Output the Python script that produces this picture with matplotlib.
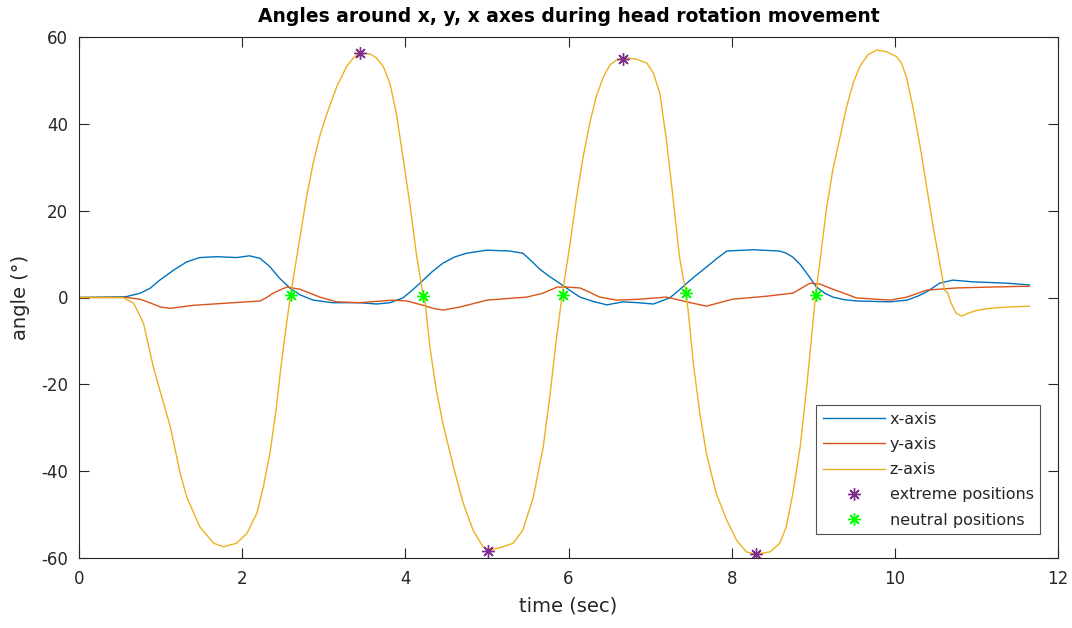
import matplotlib
matplotlib.use("Agg")
import matplotlib.pyplot as plt

# ---- data ----
t_x = [0.0, 0.58, 0.75, 0.87, 0.99, 1.16, 1.32, 1.48, 1.69, 1.93, 2.09, 2.22, 2.34, 2.46,
       2.59, 2.71, 2.87, 3.11, 3.44, 3.65, 3.81, 3.97, 4.08, 4.18, 4.32, 4.46, 4.60, 4.75,
       5.00, 5.28, 5.44, 5.54, 5.65, 5.77, 5.89, 6.02, 6.14, 6.30, 6.47, 6.67, 6.85, 7.04,
       7.24, 7.35, 7.45, 7.57, 7.69, 7.82, 7.94, 8.26, 8.59, 8.67, 8.75, 8.84, 8.92, 9.04,
       9.14, 9.24, 9.38, 9.53, 9.94, 10.15, 10.28, 10.39, 10.55, 10.71, 10.96, 11.37, 11.65]
x_axis = [0.0, 0.2, 1.0, 2.1, 4.0, 6.3, 8.2, 9.2, 9.4, 9.2, 9.6, 9.0, 7.1, 4.4,
          2.1, 0.6, -0.6, -1.2, -1.2, -1.5, -1.2, -0.1, 1.6, 3.3, 5.8, 7.9, 9.3, 10.2,
          10.9, 10.7, 10.2, 8.5, 6.5, 4.8, 3.3, 1.6, 0.1, -0.9, -1.7, -1.0, -1.2, -1.5,
          -0.1, 1.6, 3.3, 5.2, 7.0, 9.0, 10.7, 11.0, 10.7, 10.2, 9.3, 7.6, 5.6, 2.4,
          1.0, 0.1, -0.5, -0.8, -1.0, -0.6, 0.3, 1.3, 3.3, 4.0, 3.6, 3.3, 2.9]

t_y = [0.0, 0.59, 0.75, 0.88, 1.00, 1.12, 1.40, 1.81, 2.22, 2.30, 2.38, 2.47, 2.55, 2.71,
       2.83, 2.95, 3.16, 3.44, 3.85, 4.02, 4.22, 4.34, 4.46, 4.67, 5.00, 5.49, 5.69, 5.86,
       5.98, 6.14, 6.26, 6.38, 6.59, 6.87, 7.20, 7.45, 7.69, 7.85, 8.01, 8.43, 8.75, 8.86,
       8.96, 9.08, 9.20, 9.33, 9.53, 9.94, 10.15, 10.39, 10.76, 11.16, 11.65]
y_axis = [0.0, 0.0, -0.4, -1.3, -2.2, -2.5, -1.8, -1.3, -0.8, 0.0, 1.0, 1.8, 2.4, 1.9,
          1.0, 0.1, -1.0, -1.2, -0.6, -0.8, -1.8, -2.5, -2.9, -2.2, -0.6, 0.1, 1.0, 2.4,
          2.4, 2.2, 1.2, 0.1, -0.6, -0.4, 0.1, -1.0, -2.0, -1.2, -0.4, 0.3, 1.0, 2.2,
          3.3, 3.1, 2.2, 1.3, -0.1, -0.6, 0.1, 1.7, 2.2, 2.4, 2.6]

t_z = [0.0, 0.54, 0.67, 0.79, 0.91, 0.99, 1.12, 1.24, 1.32, 1.48, 1.65, 1.77, 1.93, 2.06,
       2.18, 2.26, 2.34, 2.42, 2.48, 2.55, 2.59, 2.63, 2.71, 2.79, 2.87, 2.95, 3.04, 3.16,
       3.28, 3.36, 3.44, 3.57, 3.65, 3.73, 3.81, 3.89, 3.97, 4.06, 4.14, 4.22, 4.24, 4.30,
       4.38, 4.46, 4.59, 4.71, 4.83, 4.95, 5.04, 5.20, 5.32, 5.44, 5.57, 5.69, 5.77, 5.85,
       5.92, 5.95, 6.02, 6.10, 6.18, 6.26, 6.34, 6.43, 6.51, 6.59, 6.68, 6.83, 6.96, 7.04,
       7.12, 7.20, 7.28, 7.36, 7.44, 7.47, 7.53, 7.61, 7.69, 7.81, 7.94, 8.06, 8.18, 8.30,
       8.47, 8.59, 8.67, 8.75, 8.84, 8.92, 8.98, 9.03, 9.08, 9.16, 9.24, 9.33, 9.41, 9.49,
       9.57, 9.67, 9.78, 9.90, 10.02, 10.08, 10.14, 10.22, 10.31, 10.39, 10.47, 10.55, 10.61,
       10.65, 10.69, 10.75, 10.82, 10.90, 11.00, 11.16, 11.37, 11.65]
z_axis = [0.0, 0.0, -1.3, -5.9, -15.9, -21.3, -29.8, -40.5, -45.9, -52.8, -56.6, -57.4, -56.6, -54.3,
          -49.7, -43.6, -35.9, -25.2, -15.2, -5.2, 0.2, 4.8, 14.0, 23.2, 30.9, 37.1, 42.4, 48.6,
          53.2, 55.1, 56.3, 56.1, 55.1, 53.2, 49.4, 42.4, 32.4, 20.9, 9.4, 0.2, -0.6, -11.3,
          -21.3, -29.0, -39.0, -47.4, -53.6, -57.4, -58.2, -57.4, -56.6, -53.6, -45.9, -34.4, -22.9, -9.8,
          0.2, 4.0, 12.5, 23.2, 32.4, 40.1, 46.3, 50.9, 53.6, 54.7, 55.3, 54.9, 54.0, 51.7,
          47.0, 36.3, 23.2, 9.4, 1.0, -3.6, -15.2, -26.7, -35.9, -45.1, -51.3, -55.9, -58.6, -59.1,
          -58.6, -56.6, -52.8, -45.1, -34.4, -20.6, -9.0, 1.0, 7.9, 20.2, 29.4, 37.1, 44.0, 49.4,
          53.2, 55.9, 57.0, 56.6, 55.5, 54.0, 50.9, 44.0, 34.8, 25.5, 16.3, 7.9, 1.7,
          1.0, -1.3, -3.6, -4.3, -3.6, -3.0, -2.5, -2.2, -2.0]

extreme_t = [3.44, 5.01, 6.67, 8.30]
extreme_v = [56.3, -58.4, 55.0, -59.0]
neutral_t = [2.60, 4.22, 5.93, 7.44, 9.03]
neutral_v = [0.5, 0.4, 0.5, 1.0, 0.5]

title = "Angles around x, y, x axes during head rotation movement"
xticks = [0, 2, 4, 6, 8, 10, 12]
yticks = [-60, -40, -20, 0, 20, 40, 60]

# ---- style ----
plt.rcParams['font.family'] = ['DejaVu Sans']
plt.rcParams['axes.unicode_minus'] = False
txt = (0.15, 0.15, 0.15)
c_blue = (0.0, 0.447, 0.741)
c_red = (0.85, 0.325, 0.098)
c_yel = (0.929, 0.694, 0.125)
c_pur = (0.494, 0.184, 0.556)
c_grn = (0.0, 1.0, 0.0)

fig = plt.figure(figsize=(10.72, 6.28), dpi=100)
ax = fig.add_axes([79 / 1072, 70 / 628, (1058 - 79) / 1072, (558 - 37) / 628])

ax.plot(t_x, x_axis, color=c_blue, lw=1.0, label='x-axis')
ax.plot(t_y, y_axis, color=c_red, lw=1.0, label='y-axis')
ax.plot(t_z, z_axis, color=c_yel, lw=1.0, label='z-axis')
ast = (8, 2, 0)
ax.plot(extreme_t, extreme_v, ls='none', marker=ast, ms=9, mew=1.0,
        color=c_pur, label='extreme positions')
ax.plot(neutral_t, neutral_v, ls='none', marker=ast, ms=9, mew=1.0,
        color=c_grn, label='neutral positions')

ax.set_xlim(0, 12)
ax.set_ylim(-60, 60)
ax.set_xticks(xticks)
ax.set_yticks(yticks)
ax.tick_params(axis='x', pad=9)
ax.tick_params(axis='y', pad=8)
ax.tick_params(direction='in', length=7, width=0.8, colors=txt, labelsize=12,
               top=True, right=True, labeltop=False, labelright=False)
for s in ax.spines.values():
    s.set_color(txt)
    s.set_linewidth(0.8)

ax.set_title(title, fontsize=13.5, fontweight='bold', color='black', pad=11)
ax.set_xlabel('time (sec)', fontsize=14, color=txt, labelpad=6)
ax.set_ylabel('angle (°)', fontsize=14, color=txt, labelpad=8)

leg = ax.legend(loc='lower right', bbox_to_anchor=(1040 / 1072, (628 - 534) / 628),
                bbox_transform=fig.transFigure, fontsize=11.5, frameon=True, fancybox=False,
                edgecolor=txt, handlelength=3.9, handletextpad=0.3, labelspacing=0.64,
                borderpad=0.4, borderaxespad=0)
leg.get_frame().set_linewidth(0.8)
for tx in leg.get_texts():
    tx.set_color(txt)

fig.savefig('out.png', dpi=100, facecolor='white')
